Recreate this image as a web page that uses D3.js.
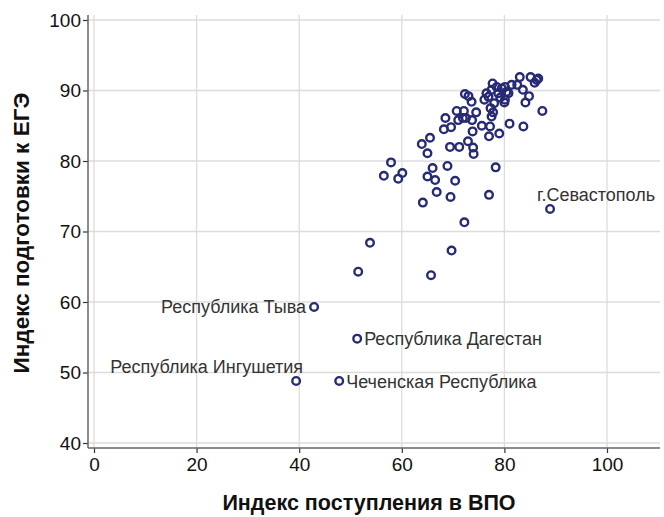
<!DOCTYPE html>
<html><head><meta charset="utf-8">
<script src="https://cdn.jsdelivr.net/npm/d3@7"></script>
<style>body{margin:0;background:#fff}svg{display:block}</style>
</head><body>
<svg id="c" width="664" height="517"></svg>
<script>
const xValues = [88.9,42.9,51.3,39.4,47.8,51.5,53.8,65.7,69.7,72.2,64.1,66.8,69.5,77.0,78.3,70.4,66.5,56.5,59.3,60.1,57.9,65.0,66.0,68.9,63.9,65.5,65.0,69.4,71.2,72.9,73.9,74.0,73.8,77.0,79.0,75.6,77.2,68.2,69.6,68.5,70.7,72.1,71.9,71.0,72.5,73.7,74.5,77.3,77.8,77.5,81.0,83.7,87.4,84.1,84.8,83.6,72.3,73.0,73.6,76.1,76.9,77.5,77.7,78.8,80.1,80.0,80.8,79.5,80.1,81.4,82.5,83.0,85.1,86.3,86.6,85.9,76.5,78.5,80.4,79.2,78.0];
const yValues = [73.2,59.3,54.8,48.8,48.8,64.3,68.4,63.8,67.3,71.3,74.1,75.6,74.9,75.2,79.1,77.2,77.3,77.9,77.5,78.3,79.8,77.8,79.0,79.3,82.4,83.3,81.1,82.0,82.0,82.8,81.9,81.0,84.2,83.5,83.9,85.0,84.9,84.5,84.8,86.1,87.1,87.1,86.1,85.8,86.1,85.8,86.9,87.5,86.9,86.3,85.3,84.9,87.1,88.3,89.2,90.1,89.5,89.2,88.4,88.7,89.1,90.1,91.0,89.6,88.7,88.3,89.6,90.3,90.5,90.8,90.8,91.9,91.9,91.5,91.7,91.1,89.6,90.5,89.8,89.0,88.2];
const labelNames = ["г.Севастополь","Республика Тыва","Республика Дагестан","Республика Ингушетия","Чеченская Республика"];
const labelIndex = [0,1,2,3,4];
const xTicks = [0,20,40,60,80,100];
const yTicks = [40,50,60,70,80,90,100];
const xTitle = "Индекс поступления в ВПО";
const yTitle = "Индекс подготовки к ЕГЭ";

(function(){
const svg = d3.select("#c");
const x = d3.scaleLinear().domain([0,100]).range([94,607]);
const y = d3.scaleLinear().domain([40,100]).range([443,20]);
const pL = 88, pR = 660, pT = 15, pB = 448;
const font = "'Liberation Sans', Arial, sans-serif";

const g = svg.append("g");
g.selectAll(".gx").data(xTicks).join("line")
  .attr("x1",d=>x(d)).attr("x2",d=>x(d)).attr("y1",pT).attr("y2",pB)
  .attr("stroke","#dcdcdc").attr("stroke-width",1.3);
g.selectAll(".gy").data(yTicks).join("line")
  .attr("y1",d=>y(d)).attr("y2",d=>y(d)).attr("x1",pL).attr("x2",pR)
  .attr("stroke","#dcdcdc").attr("stroke-width",1.3);

const ax = svg.append("g").attr("transform",`translate(0,${pB})`)
  .call(d3.axisBottom(x).tickValues(xTicks).tickSize(5).tickPadding(5).tickFormat(d3.format("d")));
const ay = svg.append("g").attr("transform",`translate(${pL},0)`)
  .call(d3.axisLeft(y).tickValues(yTicks).tickSize(5).tickPadding(2).tickFormat(d3.format("d")));
[ax,ay].forEach(a=>{
  a.select(".domain").remove();
  a.selectAll(".tick line").attr("stroke","#333").attr("stroke-width",1.2);
  a.selectAll(".tick text").attr("fill","#111").style("font-family",font).style("font-size","19px");
});
svg.append("line").attr("x1",pL).attr("x2",pL).attr("y1",pT).attr("y2",pB).attr("stroke","#666").attr("stroke-width",1.5);
svg.append("line").attr("x1",pL).attr("x2",pR).attr("y1",pB).attr("y2",pB).attr("stroke","#666").attr("stroke-width",1.5);

svg.append("text").attr("x",369).attr("y",510).attr("text-anchor","middle")
  .style("font-family",font).style("font-size","21.5px").style("font-weight","bold").attr("fill","#111").text(xTitle);
svg.append("text").attr("transform","translate(29,233) rotate(-90)").attr("text-anchor","middle")
  .style("font-family",font).style("font-size","22.5px").style("font-weight","bold").attr("fill","#111").text(yTitle);

const pts = xValues.map((v,i)=>({x:v,y:yValues[i]}));
svg.append("g").selectAll("circle").data(pts).join("circle")
  .attr("cx",d=>x(d.x)).attr("cy",d=>y(d.y)).attr("r",3.8)
  .attr("fill","none").attr("stroke","#272b75").attr("stroke-width",2.4);

const labelPos = [
  {dx:-13, dy:-8, anchor:"start"},
  {dx:-8, dy:6, anchor:"end"},
  {dx:7, dy:6, anchor:"start"},
  {dx:7, dy:-8, anchor:"end"},
  {dx:7, dy:7, anchor:"start"}
];
svg.append("g").selectAll("text").data(labelIndex).join("text")
  .attr("x",(d,i)=>x(xValues[d])+labelPos[i].dx)
  .attr("y",(d,i)=>y(yValues[d])+labelPos[i].dy)
  .attr("text-anchor",(d,i)=>labelPos[i].anchor)
  .style("font-family",font).style("font-size","18px").attr("fill","#333")
  .text((d,i)=>labelNames[i]);
})();
</script>
</body></html>
